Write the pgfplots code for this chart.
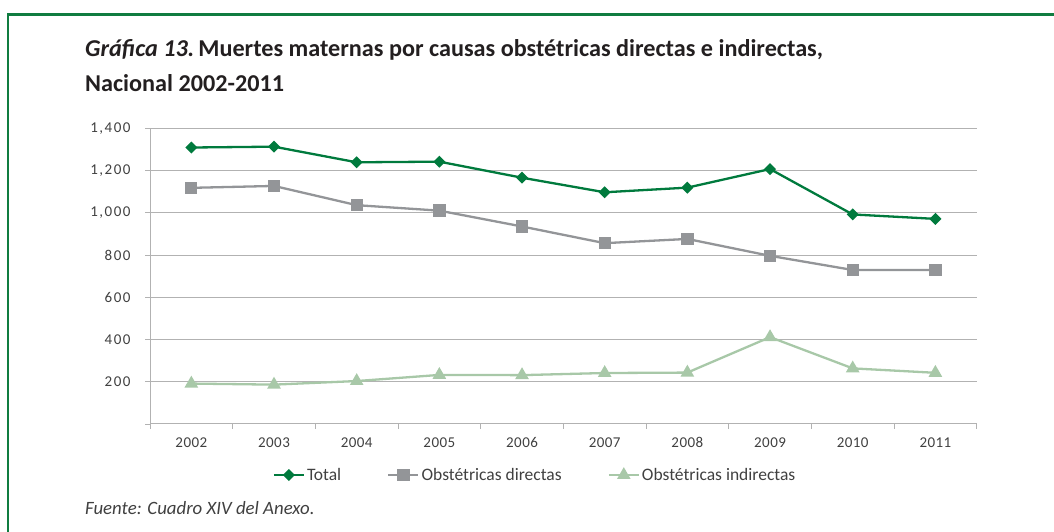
\documentclass[border=0pt]{standalone}
\usepackage{pgfplots}
\pgfplotsset{compat=1.18}
\usepackage{fontspec}
\setmainfont{Carlito}
\definecolor{framegreen}{RGB}{16,124,64}
\definecolor{totgreen}{RGB}{0,122,61}
\definecolor{dirgray}{RGB}{147,149,152}
\definecolor{indgreen}{RGB}{168,200,168}
\definecolor{gridgray}{RGB}{178,178,178}
\definecolor{labgray}{RGB}{64,64,64}
\definecolor{titleblack}{RGB}{35,31,32}
\begin{document}
\begin{tikzpicture}[x=1pt,y=1pt]
\path[use as bounding box] (0,0) rectangle (1054,531);
\draw[framegreen, line width=2.6pt] (7.8,-5) -- (7.8,516.5) -- (1060,516.5);
\node[anchor=base west, inner sep=0pt, text=titleblack, font=\fontsize{24.2}{29}\selectfont\bfseries] at (85,474) {\textit{Gráfica 13.}\,Muertes maternas por causas obstétricas directas e indirectas,};
\node[anchor=base west, inner sep=0pt, text=titleblack, font=\fontsize{24.2}{29}\selectfont\bfseries] at (85,439) {Nacional 2002-2011};
\node[anchor=base west, inner sep=0pt, font=\fontsize{18.8}{22}\selectfont\itshape, text=labgray] at (85,17) {Fuente: Cuadro XIV del Anexo.};
\begin{axis}[
  at={(150pt,107.1pt)}, anchor=south west,
  scale only axis, width=826.7pt, height=295.6pt,
  xmin=-0.5, xmax=9.5, ymin=0, ymax=1400,
  axis x line*=bottom, axis y line*=left,
  axis line style={gridgray, line width=0.9pt},
  xtick={0,...,9},
  xticklabels={2002,2003,2004,2005,2006,2007,2008,2009,2010,2011},
  minor xtick={-0.5,0.5,...,9.5},
  major x tick style={draw=none},
  minor x tick style={gridgray, line width=0.8pt},
  tick align=outside,
  minor tick length=5pt,
  major tick length=5pt,
  ytick={0,200,...,1400},
  yticklabels={,200,400,600,800,{1,000},{1,200},{1,400}},
  y tick style={gridgray, line width=0.8pt},
  ymajorgrids, grid style={gridgray, line width=0.9pt},
  ticklabel style={text=labgray},
  xticklabel style={font=\fontsize{15}{18}\selectfont\addfontfeatures{LetterSpace=3}, yshift=-5pt},
  yticklabel style={font=\fontsize{15}{18}\selectfont\addfontfeatures{LetterSpace=10}, xshift=-11pt},
  legend columns=3,
  legend style={at={(0.4657,-0.173)}, anchor=center, draw=none, fill=none,
    font=\fontsize{17.5}{21}\selectfont, text=labgray,
    /tikz/every even column/.append style={column sep=44pt},
    inner sep=0pt},
  legend image code/.code={
    \draw[#1, mark repeat=2, mark phase=2] plot coordinates {(0pt,0pt) (15pt,0pt) (30pt,0pt)};
  },
  clip=false,
]
\addplot[totgreen, line width=2.3pt, mark=square*, mark size=3.1pt, mark options={rotate=45, solid}]
  coordinates {(0,1309) (1,1313) (2,1239) (3,1242) (4,1166) (5,1097) (6,1119) (7,1207) (8,992) (9,971)};
\addlegendentry{Total}
\addplot[dirgray, line width=2.3pt, mark=square*, mark size=5pt]
  coordinates {(0,1118) (1,1127) (2,1036) (3,1010) (4,935) (5,856) (6,876) (7,796) (8,729) (9,729)};
\addlegendentry{Obstétricas directas}
\addplot[indgreen, line width=2.3pt, mark=triangle*, mark size=5.6pt]
  coordinates {(0,191) (1,186) (2,203) (3,232) (4,231) (5,241) (6,243) (7,411) (8,263) (9,242)};
\addlegendentry{Obstétricas indirectas}
\end{axis}
\end{tikzpicture}
\end{document}
